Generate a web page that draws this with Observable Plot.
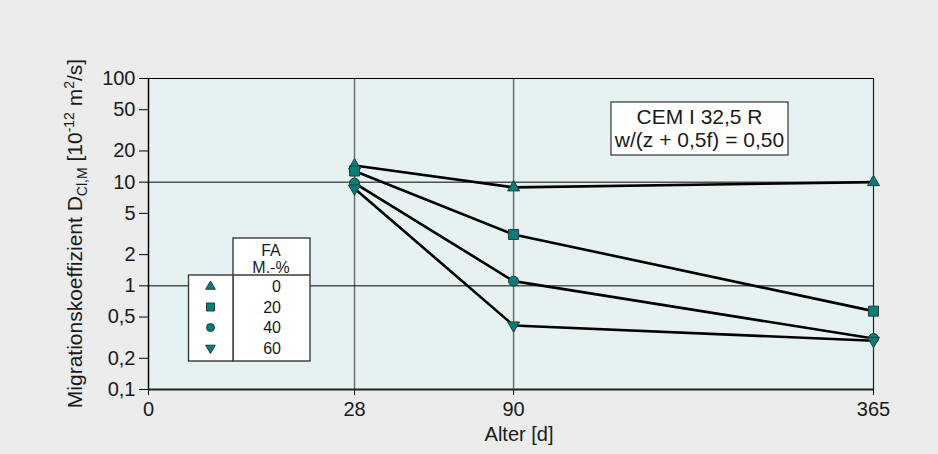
<!DOCTYPE html>
<html><head><meta charset="utf-8">
<script src="https://cdn.jsdelivr.net/npm/d3@7"></script>
<script src="https://cdn.jsdelivr.net/npm/@observablehq/plot@0.6"></script>
<style>
  body { margin: 0; background: #ebeceb; }
  #chart svg { display: block; }
</style>
</head><body><div id="chart"></div>
<script>
// ---- data ----
const ages = [28, 90, 365];                 // Alter [d]
const faLevels = [0, 20, 40, 60];          // FA M.-%
const dFA0  = [14.5, 8.9, 10.0];
const dFA20 = [12.8, 3.13, 0.57];
const dFA40 = [9.8, 1.11, 0.31];
const dFA60 = [8.7, 0.415, 0.295];
const xTicks = [0, 28, 90, 365];
const yTicks = [0.1, 0.2, 0.5, 1, 2, 5, 10, 20, 50, 100];
const yTickLabels = ["0,1", "0,2", "0,5", "1", "2", "5", "10", "20", "50", "100"];
const gridX = [28, 90];
const gridY = [1, 10];
const noteLines = ["CEM I 32,5 R", "w/(z + 0,5f) = 0,50"];
const legendTitle = ["FA", "M.-%"];
const xLabel = "Alter [d]";

const series = [dFA0, dFA20, dFA40, dFA60];
const data = faLevels.flatMap((fa, i) => ages.map((age, j) => ({fa, age, d: series[i][j]})));
const yTickData = yTicks.map((v, i) => ({v, label: yTickLabels[i]}));

// ---- symbols (sized from r = sqrt(size/pi)) ----
const unit = size => Math.sqrt(size / Math.PI);
const symUp = { draw(ctx, size) { const s = 2.4 * unit(size), h = s * Math.sqrt(3) / 2;
  ctx.moveTo(0, -2 * h / 3); ctx.lineTo(s / 2, h / 3); ctx.lineTo(-s / 2, h / 3); ctx.closePath(); } };
const symDown = { draw(ctx, size) { const s = 2.4 * unit(size), h = s * Math.sqrt(3) / 2;
  ctx.moveTo(0, 2 * h / 3); ctx.lineTo(s / 2, -h / 3); ctx.lineTo(-s / 2, -h / 3); ctx.closePath(); } };
const symSquare = { draw(ctx, size) { const a = unit(size); ctx.rect(-a, -a, 2 * a, 2 * a); } };
const symCircle = { draw(ctx, size) { const r = unit(size); ctx.moveTo(r, 0); ctx.arc(0, 0, r, 0, 2 * Math.PI); } };
const symbolsList = [symUp, symSquare, symCircle, symDown];

const FONT = "'Liberation Sans', Arial, Helvetica, sans-serif";
const markerFill = "#0b7d78", markerStroke = "#1e3f3e";

const plot = Plot.plot({
  width: 938, height: 454,
  marginLeft: 148, marginRight: 65, marginTop: 78, marginBottom: 65,
  style: { background: "#ebeceb", fontFamily: FONT, fontSize: "20px", color: "#1a1a1a" },
  x: { type: "pow", exponent: 0.49, domain: [0, 365] },
  y: { type: "log", domain: [0.1, 100] },
  symbol: { domain: faLevels, range: symbolsList },
  marks: [
    Plot.frame({ fill: "#e6f1f1", stroke: null }),
    Plot.ruleX(gridX, { stroke: "#666", strokeWidth: 1.4 }),
    Plot.ruleY(gridY, { stroke: "#000", strokeWidth: 1 }),
    Plot.ruleY([100], { stroke: "#000", strokeWidth: 1 }),
    Plot.ruleX([365], { stroke: "#222", strokeWidth: 1.2 }),
    Plot.axisY({ ticks: yTicks, tickSize: 9, text: null, label: null, stroke: "#000" }),
    Plot.text(yTickData, { y: "v", text: "label", frameAnchor: "left", dx: -13, textAnchor: "end", fontSize: 20, fill: "#1a1a1a" }),
    Plot.axisX({ ticks: xTicks, tickFormat: d => String(d), tickSize: 6, tickPadding: 6, label: null, fontSize: 20, stroke: "#000" }),
    Plot.ruleX([0], { stroke: "#000", strokeWidth: 1.5 }),
    Plot.ruleY([0.1], { stroke: "#222", strokeWidth: 1.8 }),
    Plot.line(data, { x: "age", y: "d", z: "fa", stroke: "#000", strokeWidth: 2.6, strokeLinejoin: "round" }),
    Plot.dot(data, { x: "age", y: "d", symbol: "fa", r: 5, fill: markerFill, stroke: markerStroke, strokeWidth: 1 }),
    Plot.text([xLabel], { frameAnchor: "bottom", lineAnchor: "middle", dy: 45, dx: 8, fontSize: 20, fill: "#1a1a1a" })
  ]
});
document.getElementById("chart").appendChild(plot);

// ---- y-axis title with sub/superscripts ----
const svg = d3.select(plot);
const yt = svg.append("text")
  .attr("transform", "translate(82,233.5) rotate(-90)")
  .attr("text-anchor", "middle")
  .attr("font-family", FONT).attr("font-size", 21).attr("fill", "#1a1a1a");
yt.append("tspan").text("Migrationskoeffizient D");
yt.append("tspan").attr("font-size", 14).attr("dy", 5).text("Cl,M");
yt.append("tspan").attr("dy", -5).text(" [10");
yt.append("tspan").attr("font-size", 14).attr("dy", -8).text("-12");
yt.append("tspan").attr("dy", 8).text(" m");
yt.append("tspan").attr("font-size", 14).attr("dy", -8).text("2");
yt.append("tspan").attr("dy", 8).text("/s]");

// ---- annotation box ----
const note = svg.append("g").attr("font-family", FONT).attr("font-size", 21).attr("fill", "#1a1a1a");
note.append("rect").attr("x", 611).attr("y", 102).attr("width", 177).attr("height", 53)
  .attr("fill", "#fff").attr("stroke", "#333").attr("stroke-width", 1.2);
noteLines.forEach((t, i) => note.append("text").attr("x", 699.5).attr("y", 123.5 + i * 23.3)
  .attr("text-anchor", "middle").text(t));

// ---- legend table ----
const lg = svg.append("g").attr("font-family", FONT).attr("font-size", 16).attr("fill", "#1a1a1a");
lg.append("rect").attr("x", 233).attr("y", 238).attr("width", 77).attr("height", 123)
  .attr("fill", "#fff").attr("stroke", "#3a3a3a").attr("stroke-width", 1.4);
lg.append("rect").attr("x", 188.5).attr("y", 275).attr("width", 44.5).attr("height", 86)
  .attr("fill", "#fff").attr("stroke", "#3a3a3a").attr("stroke-width", 1.4);
lg.append("line").attr("x1", 233).attr("x2", 310).attr("y1", 275).attr("y2", 275)
  .attr("stroke", "#3a3a3a").attr("stroke-width", 1.4);
legendTitle.forEach((t, i) => lg.append("text").attr("x", 271).attr("y", 255.5 + i * 17)
  .attr("text-anchor", "middle").text(t));
faLevels.forEach((fa, i) => {
  const cy = 286.5 + i * 20.5;
  lg.append("path").attr("transform", `translate(210.5,${cy})`)
    .attr("d", d3.symbol(symbolsList[i], Math.PI * 16)())
    .attr("fill", markerFill).attr("stroke", markerStroke).attr("stroke-width", 1);
  lg.append("text").attr("x", 281).attr("y", cy + 5.8).attr("text-anchor", "end").text(String(fa));
});
</script>
</body></html>
